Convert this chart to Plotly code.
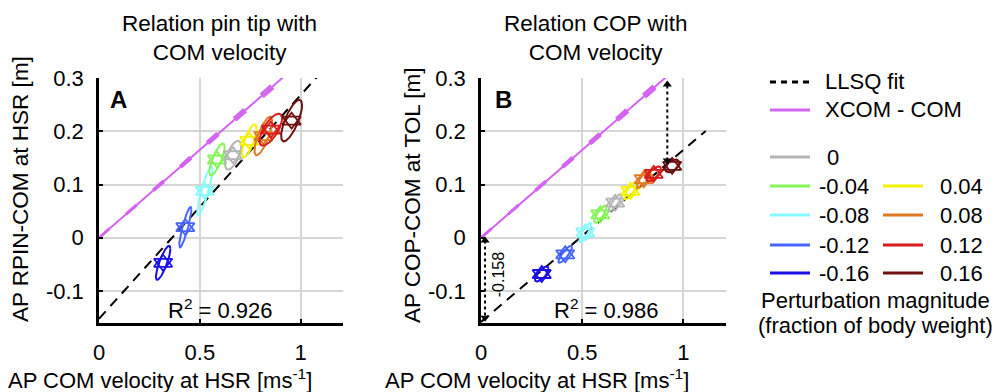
import numpy as np
import plotly.graph_objects as go

W, H = 997, 392

# ---------------- data ----------------
levels = ["-0.16", "-0.12", "-0.08", "-0.04", "0", "0.04", "0.08", "0.12", "0.16"]
colors = ["#1c10e8", "#4866ff", "#86fbff", "#86f55a", "#b5b5b5",
          "#f2f200", "#e07a22", "#d81c1c", "#6e1010"]

# Panel A: AP RPIN-COM at HSR vs AP COM velocity (mean and spread per condition)
a_vx = [0.318, 0.428, 0.525, 0.585, 0.665, 0.745, 0.815, 0.852, 0.955]
a_y = [-0.047, 0.020, 0.088, 0.147, 0.155, 0.182, 0.191, 0.203, 0.220]
a_sdx = [0.036, 0.030, 0.038, 0.038, 0.040, 0.036, 0.044, 0.056, 0.052]
a_sdy = [0.032, 0.038, 0.046, 0.030, 0.027, 0.031, 0.036, 0.030, 0.039]
a_rho = [0.82, 0.88, 0.88, 0.78, 0.62, 0.74, 0.76, 0.70, 0.74]
a_slope, a_icpt, a_r2 = 0.42, -0.152, 0.926

# Panel B: AP COP-COM at TOL vs AP COM velocity
b_vx = [0.300, 0.416, 0.515, 0.589, 0.663, 0.738, 0.804, 0.853, 0.944]
b_y = [-0.068, -0.031, 0.010, 0.044, 0.066, 0.088, 0.110, 0.120, 0.135]
b_sdx = [0.034, 0.034, 0.030, 0.030, 0.032, 0.030, 0.034, 0.036, 0.034]
b_sdy = [0.014, 0.016, 0.018, 0.016, 0.016, 0.016, 0.016, 0.014, 0.012]
b_rho = [0.70, 0.85, 0.85, 0.80, 0.85, 0.80, 0.80, 0.70, 0.50]
b_slope, b_icpt, b_r2 = 0.323, -0.158, 0.986

# XCOM - COM (v / omega0) lines
xcom_slopes = [0.325, 0.330, 0.336]

x_ticks = [0, 0.5, 1]
x_ticklabels = ["0", "0.5", "1"]
y_ticks = [-0.1, 0, 0.1, 0.2, 0.3]
y_ticklabels = ["-0.1", "0", "0.1", "0.2", "0.3"]
x_range = [0, 1.21]
y_range = [-0.16, 0.3]
fit_x = [0, 1.11]

# arrows panel B
arr1_x, arr1_y0, arr1_y1 = 0.02, -0.005, -0.150
arr2_x, arr2_y0, arr2_y1 = 0.92, 0.145, 0.288

FONT = "Liberation Sans, Arial, sans-serif"
MAG = "#d465f0"


def px(x):
    return x / W


def py(y):
    return 1 - y / H


fig = go.Figure()

panels = [
    dict(vx=a_vx, y=a_y, sdx=a_sdx, sdy=a_sdy, rho=a_rho, slope=a_slope, icpt=a_icpt,
         xa="x", ya="y"),
    dict(vx=b_vx, y=b_y, sdx=b_sdx, sdy=b_sdy, rho=b_rho, slope=b_slope, icpt=b_icpt,
         xa="x2", ya="y2"),
]

t = np.linspace(0, 2 * np.pi, 120)
for p in panels:
    # XCOM - COM lines
    for k, s in enumerate(xcom_slopes):
        xx = np.array([0, 1.2])
        fig.add_trace(go.Scatter(x=xx, y=s * xx, mode="lines", xaxis=p["xa"], yaxis=p["ya"],
                                 line=dict(color=MAG, width=2 if k == 1 else 2.5,
                                           dash="solid" if k == 1 else "14px,22px"),
                                 showlegend=False, hoverinfo="skip"))
    # LLSQ fit
    fx = np.array(fit_x)
    fig.add_trace(go.Scatter(x=fx, y=p["slope"] * fx + p["icpt"], mode="lines",
                             xaxis=p["xa"], yaxis=p["ya"],
                             line=dict(color="black", width=2, dash="10px,7px"),
                             showlegend=False, hoverinfo="skip"))
    for i in range(len(levels)):
        cx, cy = p["vx"][i], p["y"][i]
        sx, sy, r = p["sdx"][i], p["sdy"][i], p["rho"][i]
        ex = cx + sx * np.cos(t)
        ey = cy + sy * (r * np.cos(t) + np.sqrt(1 - r * r) * np.sin(t))
        fig.add_trace(go.Scatter(x=ex, y=ey, mode="lines", xaxis=p["xa"], yaxis=p["ya"],
                                 line=dict(color=colors[i], width=2),
                                 showlegend=False, hoverinfo="skip"))
        for sym in ["triangle-up-open", "triangle-down-open"]:
            fig.add_trace(go.Scatter(x=[cx], y=[cy], mode="markers", xaxis=p["xa"], yaxis=p["ya"],
                                     marker=dict(symbol=sym, size=16, color=colors[i],
                                                 line=dict(color=colors[i], width=1.8)),
                                     showlegend=False, hoverinfo="skip"))

# dotted double arrows in panel B
for ax_, y0, y1 in [(arr1_x, arr1_y0, arr1_y1), (arr2_x, arr2_y0, arr2_y1)]:
    fig.add_trace(go.Scatter(x=[ax_, ax_], y=[y0, y1], mode="lines", xaxis="x2", yaxis="y2",
                             line=dict(color="black", width=2, dash="dot"),
                             showlegend=False, hoverinfo="skip"))
    up_y, dn_y = max(y0, y1), min(y0, y1)
    fig.add_trace(go.Scatter(x=[ax_], y=[up_y], mode="markers", xaxis="x2", yaxis="y2",
                             marker=dict(symbol="triangle-up", size=8, color="black"),
                             showlegend=False, hoverinfo="skip"))
    fig.add_trace(go.Scatter(x=[ax_], y=[dn_y], mode="markers", xaxis="x2", yaxis="y2",
                             marker=dict(symbol="triangle-down", size=8, color="black"),
                             showlegend=False, hoverinfo="skip"))

axis_common = dict(range=x_range, tickvals=x_ticks, ticktext=x_ticklabels,
                   showgrid=True, gridcolor="#d6d6d6", gridwidth=1.5, zeroline=False,
                   showline=True, linecolor="black", linewidth=2.5, ticks="inside",
                   ticklen=4, tickcolor="black", tickwidth=1.5, automargin=False,
                   tickfont=dict(family=FONT, size=22, color="black"),
                   ticklabelstandoff=8)
yaxis_common = dict(range=y_range, tickvals=y_ticks, ticktext=y_ticklabels,
                    showgrid=True, gridcolor="#d6d6d6", gridwidth=1.5, zeroline=False,
                    showline=True, linecolor="black", linewidth=2.5, ticks="inside",
                    ticklen=4, tickcolor="black", tickwidth=1.5, automargin=False,
                    tickfont=dict(family=FONT, size=22, color="black"),
                    ticklabelstandoff=8)

ytop, ybot = py(78), py(323)
fig.update_layout(
    width=W, height=H, margin=dict(l=0, r=0, t=0, b=0, autoexpand=False),
    paper_bgcolor="white", plot_bgcolor="white", showlegend=False,
    xaxis=dict(domain=[px(99), px(343)], anchor="y", **axis_common),
    yaxis=dict(domain=[ybot, ytop], anchor="x", **yaxis_common),
    xaxis2=dict(domain=[px(481), px(726)], anchor="y2", **axis_common),
    yaxis2=dict(domain=[ybot, ytop], anchor="x2", **yaxis_common),
)

ann = []


def text(x, y, s, size=22, angle=0, xanchor="center"):
    ann.append(dict(x=px(x), y=py(y), xref="paper", yref="paper", text=s, showarrow=False,
                    font=dict(family=FONT, size=size, color="black"),
                    xanchor=xanchor, yanchor="middle", textangle=angle))


# titles
text(219, 38, "Relation pin tip with<br>COM velocity", size=22.5)
text(595, 38, "Relation COP with<br>COM velocity", size=22.5)
# panel letters
text(118, 100, "<b>A</b>", size=24)
text(503, 100, "<b>B</b>", size=24)
# R2
text(220, 309, f"R<sup>2</sup> = {a_r2:.3f}", size=22)
text(606, 309, f"R<sup>2</sup> = {b_r2:.3f}", size=22)
# axis titles
text(160, 378.5, "AP COM velocity at HSR [ms<sup>-1</sup>]", size=22)
text(537, 378.5, "AP COM velocity at HSR [ms<sup>-1</sup>]", size=22)
text(20, 189, "AP RPIN-COM at HSR [m]", size=22.5, angle=-90)
text(412, 196, "AP COP-COM at TOL [m]", size=22.5, angle=-90)
# offset label
ann.append(dict(x=0.085, y=-0.07, xref="x2", yref="y2", text=f"{b_icpt:.3f}", showarrow=False,
                font=dict(family=FONT, size=16, color="black"), textangle=-90))

# legend (drawn manually)
shapes = []


def legline(x0, x1, y, color, dash="solid"):
    shapes.append(dict(type="line", xref="paper", yref="paper", x0=px(x0), x1=px(x1),
                       y0=py(y), y1=py(y), line=dict(color=color, width=3, dash=dash)))


legline(770, 810, 82, "black", "6px,5px")
text(823, 82, "LLSQ fit", xanchor="left")
legline(770, 810, 110, MAG)
text(823, 110, "XCOM - COM", xanchor="left")

left_col = [4, 3, 2, 1, 0]
left_y = [157, 186, 215, 245, 273]
for idx, yy in zip(left_col, left_y):
    legline(770, 810, yy, colors[idx])
    text(825 if levels[idx] == "0" else 817, yy, levels[idx], xanchor="left")
right_col = [5, 6, 7, 8]
right_y = [186, 215, 245, 273]
for idx, yy in zip(right_col, right_y):
    legline(883, 923, yy, colors[idx])
    text(938, yy, levels[idx], xanchor="left")
text(875, 300, "Perturbation magnitude", size=22)
text(875, 325, "(fraction of body weight)", size=22)

fig.update_layout(annotations=ann, shapes=shapes)
post = ("document.documentElement.style.margin='0';document.documentElement.style.overflow='hidden';"
        "document.body.style.margin='0';document.body.style.overflow='hidden';"
        "var d=document.querySelector('.plotly-graph-div');"
        "d.style.position='fixed';d.style.left='0px';d.style.top='0px';")
fig.write_html("out.html", config={"displayModeBar": False}, post_script=post)
